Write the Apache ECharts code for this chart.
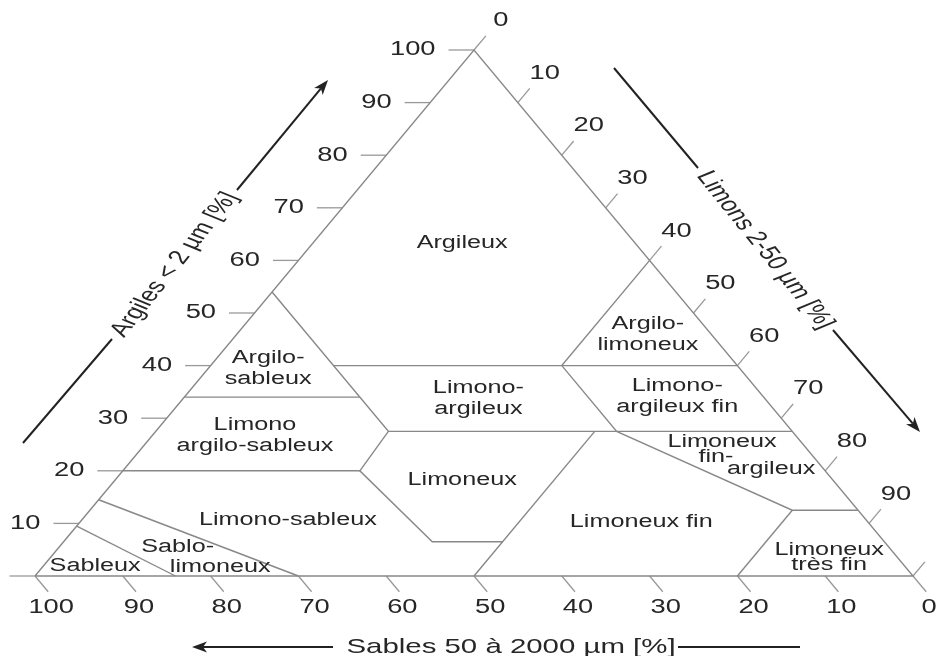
<!DOCTYPE html>
<html>
<head>
<meta charset="utf-8">
<title>Triangle des textures</title>
<script src="https://cdn.jsdelivr.net/npm/echarts@6/dist/echarts.min.js"></script>
<style>
html, body { margin: 0; padding: 0; background: #fff; }
#chart { width: 940px; height: 656px; }
</style>
</head>
<body>
<div id="chart"></div>
<script>
// graduations (%)
var sableTicks = [100, 90, 80, 70, 60, 50, 40, 30, 20, 10, 0];
var argileTicks = [0, 10, 20, 30, 40, 50, 60, 70, 80, 90, 100];
var limonTicks = [0, 10, 20, 30, 40, 50, 60, 70, 80, 90, 100];
var argileLabels = [10, 20, 30, 40, 50, 60, 70, 80, 90, 100];
var limonLabels = [0, 10, 20, 30, 40, 50, 60, 70, 80, 90];

// limites des classes : points [sable %, argile %]
var limites = [
	[[100, 0], [0, 100], [0, 0], [100, 0]],
	[[46, 54], [46, 27.5], [53, 20], [51.5, 6.5], [43.5, 6.5]],
	[[66, 34], [46, 34]],
	[[46, 40], [0, 40]],
	[[0, 60], [20, 40], [20, 27.5], [7.5, 12.5], [0, 12.5]],
	[[46, 27.5], [0, 27.5]],
	[[80, 20], [53, 20]],
	[[22.5, 27.5], [50, 0]],
	[[7.5, 12.5], [20, 0]],
	[[85.5, 14.5], [70, 0]],
	[[90.5, 9.5], [84, 0]]
];

// noms des classes et leur place [sable %, argile %]
var classeNoms = ['Argileux', 'Argilo-\nsableux', 'Limono\nargilo-sableux', 'Limono-\nargileux',
	'Argilo-\nlimoneux', 'Limono-\nargileux fin', 'Limoneux', 'Limono-sableux', 'Sableux',
	'Sablo-', 'limoneux', 'Limoneux fin', 'Limoneux', 'fin-', 'argileux', 'Limoneux\ntrès fin'];
var classePos = [[19.7, 63.3], [53.7, 39.5], [61.6, 26.7], [32.6, 33.8],
	[7.2, 46], [9.8, 34.1], [42.2, 18.3], [65.9, 10.6], [92.2, 1.9],
	[81, 5.5], [78, 1.8], [25.8, 10.3], [9, 25.5], [11.1, 22.7], [6, 20.3], [7.8, 3.5]];

var STRETCH = 1.4;
var FONT = '"Liberation Sans", Arial, sans-serif';
var TXT = '#262626';

// sable/argile -> coordonnees du repere (0..100)
function toXY(s, c) { return [100 - s - c / 2, c]; }

var tickSegs = [];
var tickTexts = [];
argileTicks.forEach(function (k) { tickSegs.push([[100 - k, k], [100 - k + 2.9, k]]); });
limonTicks.forEach(function (k) { tickSegs.push([[0, 100 - k], [-2.7, 100 - k + 2.7]]); });
sableTicks.forEach(function (k) { tickSegs.push([[k, 0], [k, -3]]); });
argileLabels.forEach(function (k) { tickTexts.push({ t: String(k), at: [100 - k + 2.9, k], dx: -13, dy: 0, align: 'right' }); });
limonLabels.forEach(function (k) { tickTexts.push({ t: String(k), at: [-2.7, 100 - k + 2.7], dx: 15, dy: -15, align: 'center' }); });
sableTicks.forEach(function (k) { tickTexts.push({ t: String(k), at: [k, -3], dx: 3, dy: 16, align: 'center' }); });

function idx(arr) { return arr.map(function (d, i) { return [i, 0]; }); }

function polySeries(list, color, width) {
	return {
		type: 'custom', coordinateSystem: 'cartesian2d', clip: false, silent: true,
		data: idx(list),
		renderItem: function (params, api) {
			var pts = list[params.dataIndex].map(function (p) { return api.coord(toXY(p[0], p[1])); });
			return { type: 'polyline', shape: { points: pts }, style: { stroke: color, lineWidth: width, fill: null } };
		}
	};
}

function fleche(x1, y1, x2, y2) {
	var a = Math.atan2(y2 - y1, x2 - x1), L = 15, W = 5.5;
	var bx = x2 - L * Math.cos(a), by = y2 - L * Math.sin(a);
	return [
		{ type: 'line', shape: { x1: x1, y1: y1, x2: bx + 4 * Math.cos(a), y2: by + 4 * Math.sin(a) }, style: { stroke: '#222', lineWidth: 2 } },
		{ type: 'polygon', shape: { points: [[x2, y2], [bx - W * Math.sin(a), by + W * Math.cos(a)], [bx + 4 * Math.cos(a), by + 4 * Math.sin(a)], [bx + W * Math.sin(a), by - W * Math.cos(a)]] }, style: { fill: '#222' } }
	];
}
function trait(x1, y1, x2, y2) {
	return { type: 'line', shape: { x1: x1, y1: y1, x2: x2, y2: y2 }, style: { stroke: '#222', lineWidth: 2 } };
}
function titre(x, y, rot, text, size) {
	return {
		type: 'group', x: x, y: y, scaleX: STRETCH,
		children: [{ type: 'text', rotation: rot, style: { text: text, fontSize: size, fontFamily: FONT, fill: TXT, align: 'center', verticalAlign: 'middle' } }]
	};
}

var chart = echarts.init(document.getElementById('chart'));
chart.setOption({
	animation: false,
	backgroundColor: '#fff',
	grid: { left: 35, right: 27, top: 50, bottom: 80 },
	xAxis: { type: 'value', min: 0, max: 100, show: false },
	yAxis: { type: 'value', min: 0, max: 100, show: false },
	graphic: [].concat(
		[trait(23, 443, 112, 339)], fleche(237, 190, 328, 80),
		[trait(614, 68, 698, 168)], fleche(833, 330, 920, 432),
		fleche(333, 647, 192, 647), [trait(678, 647, 800, 647)],
		[titre(174.5, 264.5, Math.PI / 3, 'Argiles < 2 µm [%]', 20),
		 titre(765, 250, -Math.PI / 3, 'Limons 2-50 µm [%]', 20),
		 titre(511, 647, 0, 'Sables 50 à 2000 µm [%]', 21)]
	),
	series: [
		polySeries(tickSegs, '#999', 1.3),
		polySeries(limites, '#888', 1.4),
		{
			type: 'custom', coordinateSystem: 'cartesian2d', clip: false, silent: true,
			data: idx(tickTexts),
			renderItem: function (params, api) {
				var d = tickTexts[params.dataIndex];
				var p = api.coord(toXY(d.at[0], d.at[1]));
				return { type: 'text', x: p[0] + d.dx, y: p[1] + d.dy, scaleX: STRETCH,
					style: { text: d.t, fontSize: 19.5, fontFamily: FONT, fill: TXT, align: d.align, verticalAlign: 'middle' } };
			}
		},
		{
			type: 'custom', coordinateSystem: 'cartesian2d', clip: false, silent: true,
			data: idx(classeNoms),
			renderItem: function (params, api) {
				var i = params.dataIndex;
				var p = api.coord(toXY(classePos[i][0], classePos[i][1]));
				return { type: 'text', x: p[0], y: p[1], scaleX: STRETCH,
					style: { text: classeNoms[i], fontSize: 18, fontFamily: FONT, fill: TXT, align: 'center', verticalAlign: 'middle',
						lineHeight: classeNoms[i].indexOf('très') >= 0 ? 15 : 21 } };
			}
		}
	]
});
</script>
</body>
</html>
